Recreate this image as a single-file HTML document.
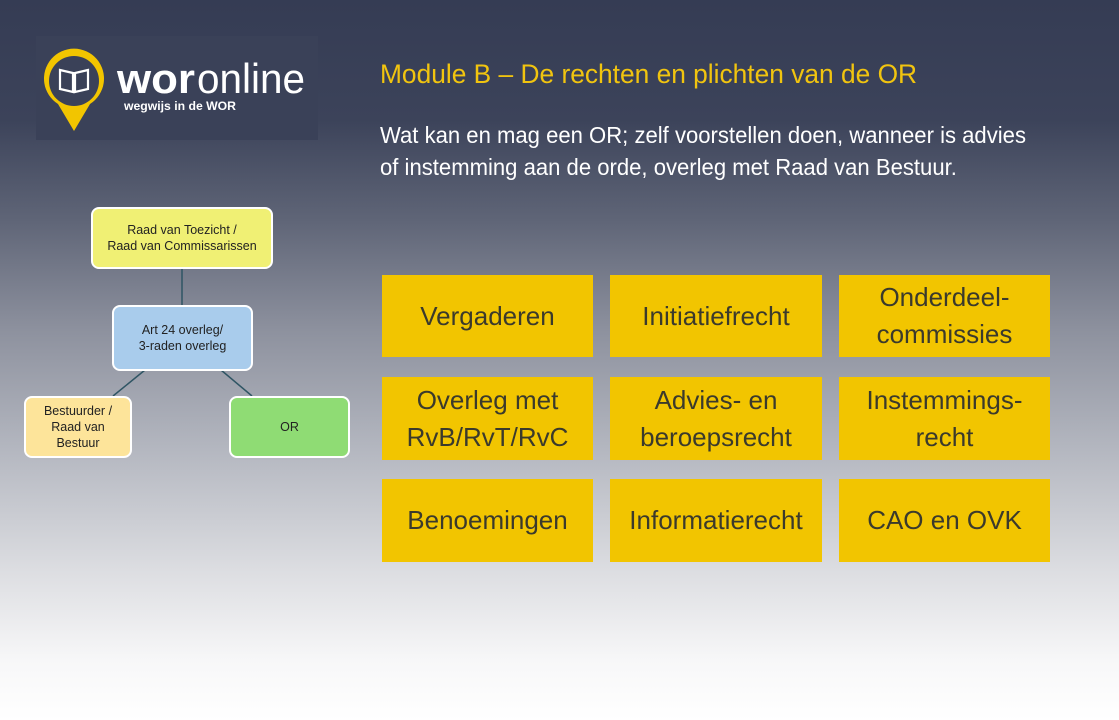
<!DOCTYPE html>
<html><head><meta charset="utf-8"><style>
*{margin:0;padding:0;box-sizing:border-box}
body{width:1119px;height:720px;overflow:hidden;position:relative;font-family:"Liberation Sans",sans-serif;
background:linear-gradient(to bottom,#353c54 0px,#3c435a 120px,#5f6577 220px,#8d919e 330px,#b4b7c0 450px,#dcdde1 570px,#f7f7f8 660px,#ffffff 720px);}
.abs{position:absolute}
.logo{left:36px;top:36px;width:282px;height:104px;background:#3a4158}
.t1{left:380px;top:59px;font-size:27px;color:#f1c40f;white-space:nowrap;transform:scaleX(0.975);transform-origin:0 0}
.t2{left:380px;top:119px;font-size:23px;color:#fff;line-height:32px;white-space:nowrap;transform:scaleX(0.96);transform-origin:0 0}
.g{position:absolute;background:#f2c500;color:#3b3a2c;font-size:26px;display:flex;align-items:center;justify-content:center;text-align:center;line-height:37px}
.n{position:absolute;border:2px solid #fff;border-radius:8px;display:flex;align-items:center;justify-content:center;text-align:center;font-size:12.5px;color:#222;line-height:16px}
</style></head><body>
<div class="abs logo">
<svg width="282" height="104" viewBox="0 0 282 104">
<path d="M38 95 L22 68 A30 30 0 1 1 54 68 Z" fill="#f2c500"/>
<circle cx="38" cy="45" r="25" fill="#3a4158"/>
<path d="M24 34 L37 37 L37 56 L24 53 Z M52 34 L39 37 L39 56 L52 53 Z" fill="none" stroke="#fff" stroke-width="2.2"/>
<text x="81" y="57" fill="#fff" font-family="Liberation Sans" font-weight="bold" font-size="42" textLength="78" lengthAdjust="spacingAndGlyphs">wor</text>
<text x="161" y="57" fill="#fff" font-family="Liberation Sans" font-size="42" textLength="108" lengthAdjust="spacingAndGlyphs">online</text>
<text x="88" y="74" fill="#fff" font-family="Liberation Sans" font-weight="bold" font-size="12" textLength="112" lengthAdjust="spacingAndGlyphs">wegwijs in de WOR</text>
</svg></div>
<div class="abs t1">Module B – De rechten en plichten van de OR</div>
<div class="abs t2">Wat kan en mag een OR; zelf voorstellen doen, wanneer is advies<br>of instemming aan de orde, overleg met Raad van Bestuur.</div>

<svg class="abs" style="left:0;top:0" width="360" height="480">
<line x1="182" y1="268" x2="182" y2="306" stroke="#2f5564" stroke-width="1.5"/>
<line x1="145" y1="370" x2="113" y2="396" stroke="#2f5564" stroke-width="1.5"/>
<line x1="221" y1="370" x2="252" y2="396" stroke="#2f5564" stroke-width="1.5"/>
</svg>
<div class="n" style="left:91px;top:207px;width:182px;height:62px;background:#f0f074">Raad van Toezicht /<br>Raad van Commissarissen</div>
<div class="n" style="left:112px;top:305px;width:141px;height:66px;background:#a9ccec">Art 24 overleg/<br>3-raden overleg</div>
<div class="n" style="left:24px;top:396px;width:108px;height:62px;background:#fde49a">Bestuurder /<br>Raad van<br>Bestuur</div>
<div class="n" style="left:229px;top:396px;width:121px;height:62px;background:#8fdc74">OR</div>

<div class="g" style="left:382px;top:275px;width:211px;height:82px">Vergaderen</div>
<div class="g" style="left:610px;top:275px;width:212px;height:82px">Initiatiefrecht</div>
<div class="g" style="left:839px;top:275px;width:211px;height:82px">Onderdeel-<br>commissies</div>
<div class="g" style="left:382px;top:377px;width:211px;height:83px">Overleg met<br>RvB/RvT/RvC</div>
<div class="g" style="left:610px;top:377px;width:212px;height:83px">Advies- en<br>beroepsrecht</div>
<div class="g" style="left:839px;top:377px;width:211px;height:83px">Instemmings-<br>recht</div>
<div class="g" style="left:382px;top:479px;width:211px;height:83px">Benoemingen</div>
<div class="g" style="left:610px;top:479px;width:212px;height:83px">Informatierecht</div>
<div class="g" style="left:839px;top:479px;width:211px;height:83px">CAO en OVK</div>
</body></html>
